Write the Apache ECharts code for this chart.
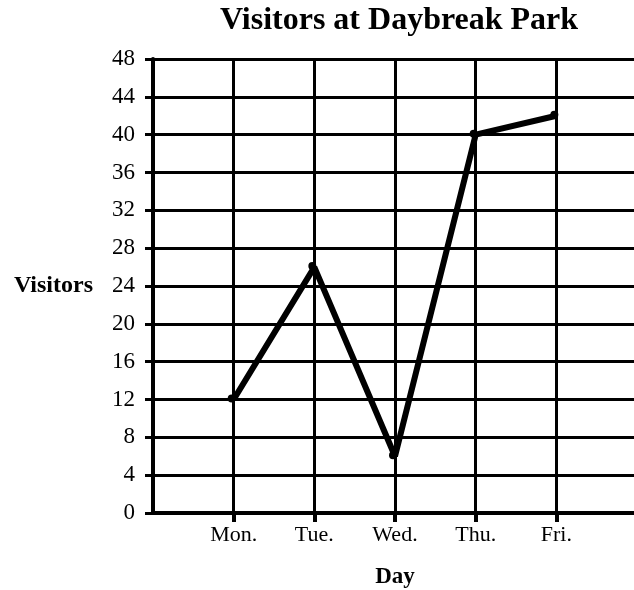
<!DOCTYPE html>
<html>
<head>
<meta charset="utf-8">
<script src="https://cdn.jsdelivr.net/npm/echarts@6/dist/echarts.min.js"></script>
<style>
  html, body { margin: 0; padding: 0; background: #fff; }
  #chart { width: 634px; height: 590px; }
</style>
</head>
<body>
<div id="chart"></div>
<script>
// 横轴：两端留空位，画出网格线但不写标签
const days = ['', 'Mon.', 'Tue.', 'Wed.', 'Thu.', 'Fri.', '']
const visitors = [null, 12, 26, 6, 40, 42, null]
const yTicks = { min: 0, max: 48, step: 4 }

const serif = '"Liberation Serif", "Times New Roman", serif'

const chart = echarts.init(document.getElementById('chart'))
chart.setOption({
  backgroundColor: '#fff',
  animation: false,
  title: {
    text: 'Visitors at Daybreak Park',
    left: 394,
    top: 0,
    textAlign: 'center',
    textStyle: { fontFamily: serif, fontWeight: 'bold', fontSize: 32, color: '#000' }
  },
  // 绘图区右侧超出画布，最右一条竖线被裁掉
  grid: { left: 153, width: 484, top: 59, bottom: 77, outerBoundsMode: 'none' },
  xAxis: {
    type: 'category',
    data: days,
    boundaryGap: false,
    name: 'Day',
    nameLocation: 'middle',
    nameGap: 53,
    nameTextStyle: { fontFamily: serif, fontWeight: 'bold', fontSize: 23, color: '#000' },
    axisLine: { lineStyle: { color: '#000', width: 4 } },
    axisTick: {
      interval: (i) => i > 0 && i < 6,
      length: 9,
      lineStyle: { color: '#000', width: 4 }
    },
    axisLabel: { interval: 0, margin: 11, fontFamily: serif, fontSize: 22, color: '#000' },
    splitLine: { show: true, interval: 0, lineStyle: { color: '#000', width: 3 } }
  },
  yAxis: {
    type: 'value',
    min: yTicks.min,
    max: yTicks.max,
    interval: yTicks.step,
    name: 'Visitors',
    nameLocation: 'middle',
    nameRotate: 0,
    nameGap: 60,
    nameTextStyle: { fontFamily: serif, fontWeight: 'bold', fontSize: 24, color: '#000' },
    axisLine: { show: true, lineStyle: { color: '#000', width: 4 } },
    axisTick: { show: true, length: 8, lineStyle: { color: '#000', width: 3 } },
    axisLabel: { margin: 18, fontFamily: serif, fontSize: 23, color: '#000' },
    splitLine: { lineStyle: { color: '#000', width: 3 } }
  },
  series: [{
    type: 'line',
    data: visitors,
    connectNulls: false,
    symbol: 'circle',
    symbolSize: 8,
    symbolOffset: [-2, -1],
    lineStyle: { color: '#000', width: 6 },
    itemStyle: { color: '#000' }
  }]
})
</script>
</body>
</html>
